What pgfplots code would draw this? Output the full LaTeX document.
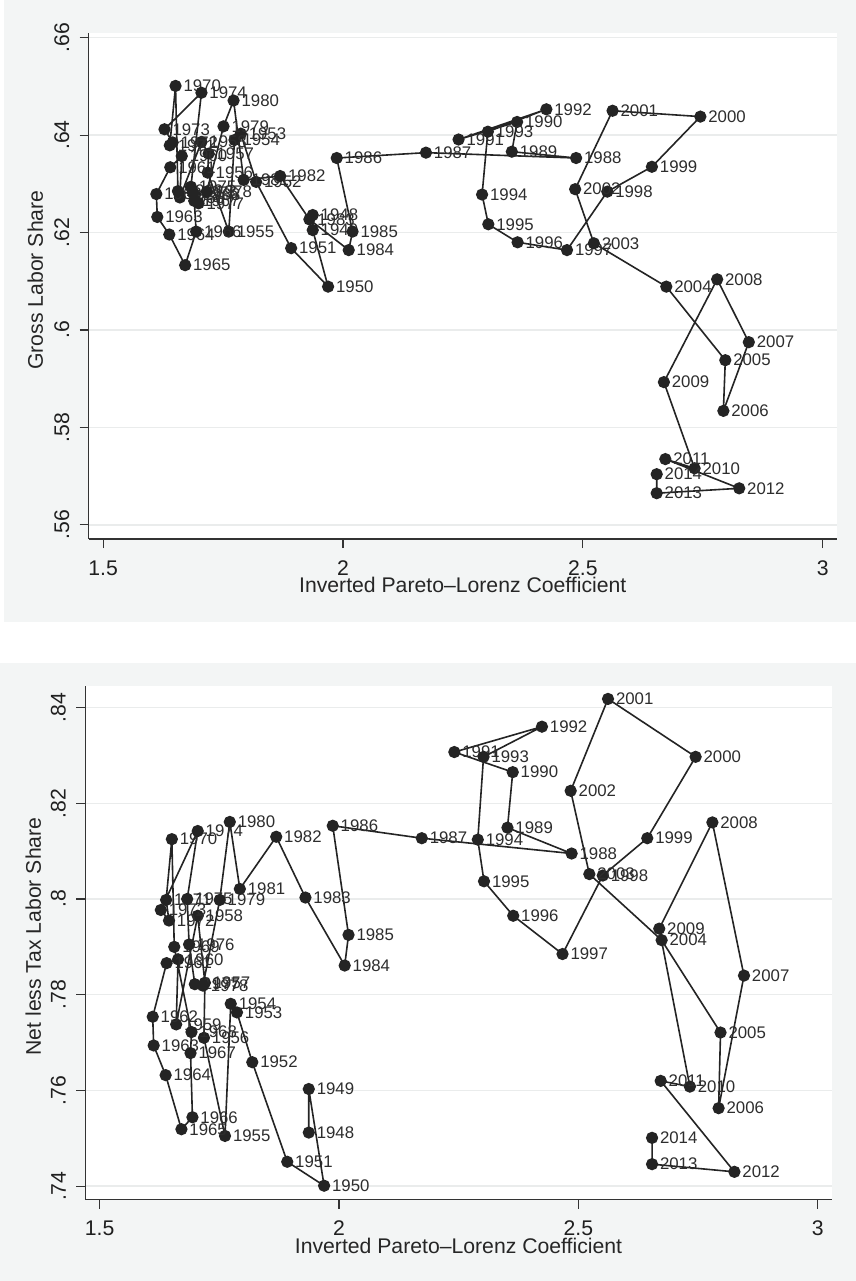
\documentclass[border=0pt]{standalone}
\usepackage{fontspec}
\setmainfont{Liberation Sans}
\usepackage{pgfplots}
\pgfplotsset{compat=1.18}
\usepackage{pgfplotstable}

\definecolor{bgc}{RGB}{243,245,245}
\definecolor{gridc}{RGB}{234,236,236}
\definecolor{mk}{RGB}{36,36,36}
\definecolor{lab}{RGB}{45,45,45}

\pgfplotstableread{
yr x g n
1948 1.937 0.6236 0.7512
1949 1.937 0.6205 0.7603
1950 1.969 0.6089 0.7401
1951 1.892 0.6168 0.7451
1952 1.819 0.6304 0.7659
1953 1.787 0.6403 0.7763
1954 1.774 0.6390 0.7781
1955 1.762 0.6202 0.7505
1956 1.718 0.6323 0.7710
1957 1.720 0.6362 0.7825
1958 1.705 0.6386 0.7965
1959 1.660 0.6272 0.7738
1960 1.664 0.6357 0.7874
1961 1.640 0.6334 0.7866
1962 1.611 0.6279 0.7754
1963 1.613 0.6232 0.7694
1964 1.638 0.6196 0.7632
1965 1.671 0.6133 0.7519
1966 1.694 0.6202 0.7544
1967 1.690 0.6265 0.7678
1968 1.692 0.6278 0.7722
1969 1.656 0.6285 0.7900
1970 1.651 0.6501 0.8125
1971 1.639 0.6379 0.7998
1972 1.645 0.6385 0.7955
1973 1.628 0.6412 0.7977
1974 1.705 0.6487 0.8142
1975 1.683 0.6294 0.8000
1976 1.687 0.6282 0.7905
1977 1.699 0.6260 0.7822
1978 1.716 0.6284 0.7819
1979 1.751 0.6418 0.7998
1980 1.772 0.6471 0.8161
1981 1.793 0.6308 0.8021
1982 1.869 0.6316 0.8130
1983 1.930 0.6227 0.8003
1984 2.012 0.6164 0.7861
1985 2.020 0.6202 0.7925
1986 1.987 0.6353 0.8153
1987 2.173 0.6364 0.8127
1988 2.486 0.6353 0.8095
1989 2.352 0.6366 0.8149
1990 2.363 0.6427 0.8265
1991 2.241 0.6391 0.8307
1992 2.424 0.6453 0.8360
1993 2.302 0.6407 0.8297
1994 2.290 0.6278 0.8124
1995 2.303 0.6217 0.8037
1996 2.364 0.6180 0.7965
1997 2.467 0.6164 0.7885
1998 2.551 0.6284 0.8049
1999 2.644 0.6335 0.8127
2000 2.745 0.6438 0.8297
2001 2.562 0.6450 0.8418
2002 2.484 0.6289 0.8226
2003 2.523 0.6178 0.8052
2004 2.674 0.6089 0.7914
2005 2.797 0.5938 0.7721
2006 2.793 0.5834 0.7563
2007 2.846 0.5975 0.7840
2008 2.780 0.6104 0.8160
2009 2.669 0.5893 0.7938
2010 2.733 0.5716 0.7608
2011 2.672 0.5735 0.7620
2012 2.826 0.5675 0.7430
2013 2.654 0.5665 0.7446
2014 2.654 0.5704 0.7501
}\data

\pgfplotsset{
  panel/.style={
    scale only axis,
    clip=false,
    anchor=south west,
    axis lines*=left,
    axis line style={line width=0.55pt, color=black!80},
    axis background/.style={fill=white},
    tick align=outside,
    major tick length=4.6pt,
    tick style={line width=0.55pt, color=black!80},
    ymajorgrids,
    grid style={gridc, line width=0.7pt},
    xmin=1.4704, xmax=3.029,
    xtick={1.5,2,2.5,3},
    xticklabels={1.5,2,2.5,3},
    tick label style={font=\fontsize{10.6}{12}\selectfont, color=black!88},
    yticklabel style={rotate=90, anchor=south, inner sep=0pt},
    xticklabel style={anchor=north, inner sep=0pt},
    xticklabel shift=6pt,
    yticklabel shift=5pt,
    xlabel={Inverted Pareto\textendash Lorenz Coefficient},
    xlabel style={at={(axis description cs:0.5,-0.0755)}, anchor=north, inner sep=0pt, font=\fontsize{10.6}{12}\selectfont, color=black!85},
    ylabel style={anchor=south, inner sep=0pt, font=\fontsize{10.6}{12}\selectfont, color=black!85},
    point meta=explicit symbolic,
    nodes near coords={\pgfplotspointmeta},
    nodes near coords align=horizontal,
    every node near coord/.append style={font=\fontsize{8.4}{9}\selectfont, color=lab, inner sep=0pt, anchor=west, xshift=3.6pt},
  },
  ser/.style={color=mk, line width=0.8pt, mark=*, mark size=2.65pt, mark options={fill=mk, draw=mk, solid}},
}

\begin{document}
\begin{tikzpicture}
\useasboundingbox (0,0) rectangle (428pt,640.5pt);
\fill[bgc] (2pt,329.5pt) rectangle (428pt,640.5pt);
\fill[bgc] (0pt,0pt) rectangle (428pt,309pt);

\begin{axis}[panel,
  at={(44.45pt,371pt)},
  width=373.85pt, height=252.85pt,
  ymin=0.5571, ymax=0.6609,
  ytick={0.56,0.58,0.6,0.62,0.64,0.66},
  yticklabels={.56,.58,.6,.62,.64,.66},
  ylabel={Gross Labor Share},
  ylabel style={at={(axis description cs:-0.0606,0.512)}},
]
\addplot[ser] table[x=x, y=g, meta=yr] {\data};
\end{axis}

\begin{axis}[panel,
  at={(42.7pt,40.85pt)},
  width=373.1pt, height=256.65pt,
  ymin=0.73726, ymax=0.8445,
  ytick={0.74,0.76,0.78,0.8,0.82,0.84},
  yticklabels={.74,.76,.78,.8,.82,.84},
  ylabel={Net less Tax Labor Share},
  ylabel style={at={(axis description cs:-0.059,0.512)}},
]
\addplot[ser] table[x=x, y=n, meta=yr] {\data};
\end{axis}
\end{tikzpicture}
\end{document}
